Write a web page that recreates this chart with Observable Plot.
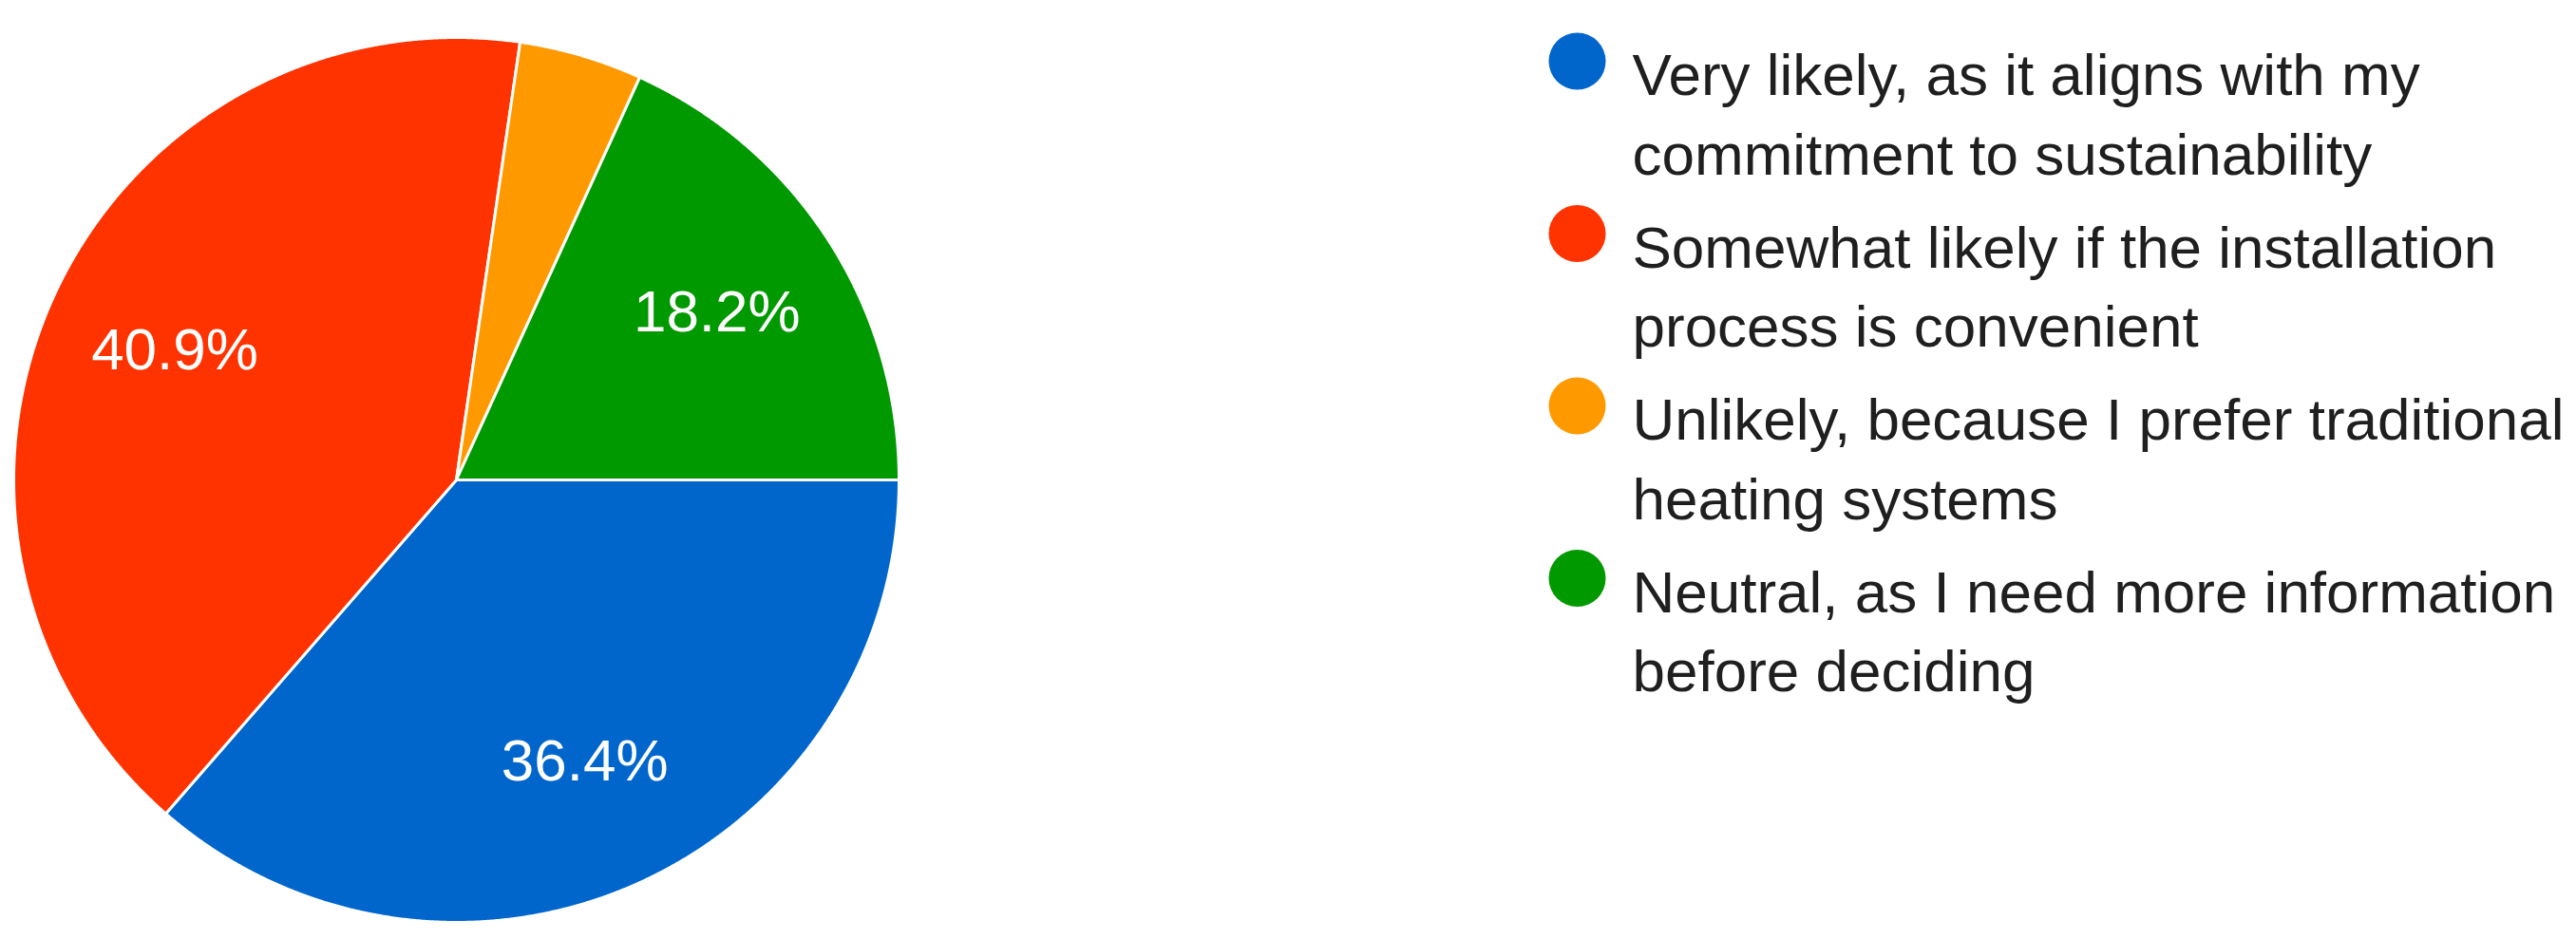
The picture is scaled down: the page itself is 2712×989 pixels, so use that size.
<!DOCTYPE html>
<html>
<head>
<meta charset="utf-8">
<script src="https://cdn.jsdelivr.net/npm/d3@7"></script>
<script src="https://cdn.jsdelivr.net/npm/@observablehq/plot@0.6"></script>
<style>
  html, body { margin: 0; padding: 0; background: #ffffff; }
  #chart svg { display: block; }
</style>
</head>
<body>
<div id="chart"></div>
<script>
// ---- data ----
const categories = [
  "Very likely, as it aligns with my\ncommitment to sustainability",
  "Somewhat likely if the installation\nprocess is convenient",
  "Unlikely, because I prefer traditional\nheating systems",
  "Neutral, as I need more information\nbefore deciding"
];
const shares = [36.4, 40.9, 4.5, 18.2];
const colors = ["#0066cc", "#ff3300", "#ff9900", "#009900"];

// ---- layout ----
const W = 2712, H = 989;
const cx = 480, cy = 505, R = 466;
const legendDotX = 1660, legendTextX = 1718, legendTop = 64, legendStep = 181.5;
const font = "'Liberation Sans', Arial, Helvetica, sans-serif";

const rows = categories.map((cat, i) => ({cat, share: shares[i], i}));

const arcs = d3.pie()
  .sort(null)
  .value(d => d.share)
  .startAngle(Math.PI / 2)
  .endAngle(Math.PI / 2 + 2 * Math.PI)(rows);

const px = (a, r) => cx + r * Math.sin(a);
const py = (a, r) => cy - r * Math.cos(a);

const slicePoints = [];
for (const a of arcs) {
  const cat = a.data.cat;
  slicePoints.push({cat, x: cx, y: cy});
  const n = Math.max(2, Math.ceil((a.endAngle - a.startAngle) / 0.004));
  for (let k = 0; k <= n; k++) {
    const t = a.startAngle + (a.endAngle - a.startAngle) * k / n;
    slicePoints.push({cat, x: px(t, R), y: py(t, R)});
  }
  slicePoints.push({cat, x: cx, y: cy});
}

const labelRows = arcs
  .filter(a => a.data.share >= 5)
  .map(a => {
    const m = (a.startAngle + a.endAngle) / 2;
    return {x: px(m, R * 0.7), y: py(m, R * 0.7), text: a.data.share.toFixed(1) + "%"};
  });

const chart = Plot.plot({
  width: W,
  height: H,
  margin: 0,
  x: {domain: [0, W], range: [0, W], axis: null},
  y: {domain: [0, H], range: [0, H], axis: null},
  color: {domain: categories, range: colors},
  style: {fontFamily: font, background: "#ffffff"},
  marks: [
    Plot.line(slicePoints, {
      x: "x", y: "y", z: "cat", fill: "cat",
      stroke: "#ffffff", strokeWidth: 3, strokeLinejoin: "round"
    }),
    Plot.text(labelRows, {
      x: "x", y: "y", text: "text",
      fill: "#ffffff", fontSize: 62, fontFamily: font
    }),
    Plot.dot(rows, {
      x: () => legendDotX,
      y: d => legendTop + d.i * legendStep,
      r: 30, fill: "cat"
    }),
    Plot.text(rows, {
      x: () => legendTextX,
      y: d => legendTop + d.i * legendStep,
      text: "cat",
      textAnchor: "start",
      lineAnchor: "top",
      dy: -23,
      lineHeight: 1.34,
      fontSize: 62,
      fontFamily: font,
      fill: "#1f1f1f"
    })
  ]
});

document.getElementById("chart").appendChild(chart);
</script>
</body>
</html>
